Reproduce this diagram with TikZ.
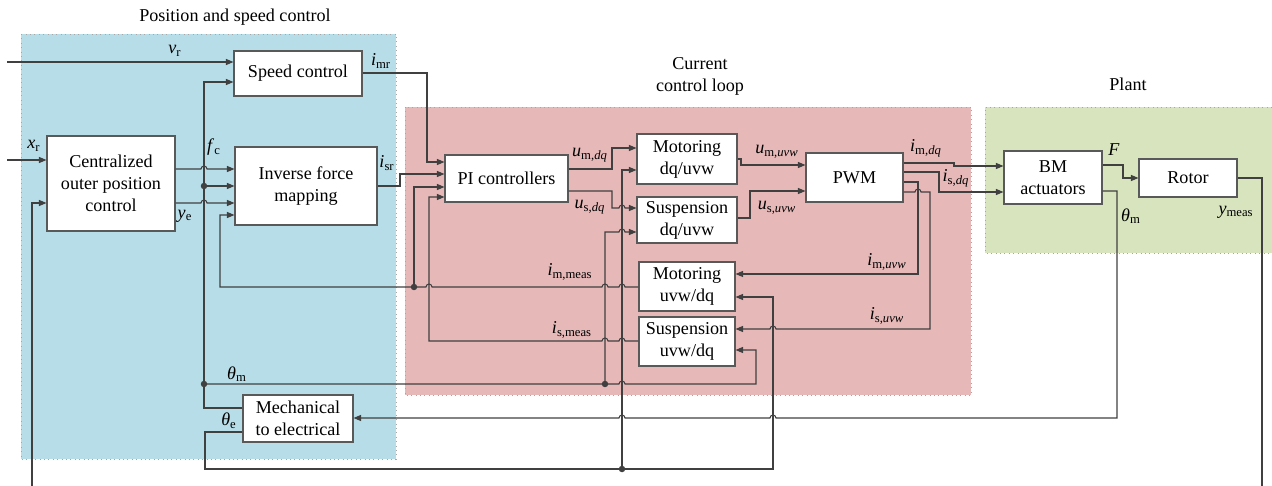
\documentclass[tikz,border=0pt]{standalone}
\usepackage{fontspec}
\setmainfont{Liberation Serif}
\usetikzlibrary{arrows.meta,calc}
\definecolor{bluebg}{HTML}{B7DDE8}
\definecolor{redbg}{HTML}{E6B9B8}
\definecolor{greenbg}{HTML}{D7E4BD}
\definecolor{ln}{HTML}{404040}
\definecolor{bord}{HTML}{A6A6A6}
\newcommand\sym[2]{\textit{#1}\textsubscript{#2}}
% jump on a horizontal line: going right / going left
\newcommand\jr[2]{-- (#1-3,#2) arc[start angle=180,end angle=0,radius=0.06cm]}
\newcommand\jl[2]{-- (#1+3,#2) arc[start angle=0,end angle=180,radius=0.06cm]}
\begin{document}
\begin{tikzpicture}[x=0.02cm,y=-0.02cm,
  font=\fontsize{10.3}{12.5}\selectfont,
  blk/.style args={#1/#2}{draw=black!65, fill=white, line width=0.6pt, align=center,
     inner sep=0pt, minimum width=#1*0.02cm, minimum height=#2*0.02cm},
  wire/.style={draw=ln, line width=0.6pt},
  arr/.style={wire, -{Triangle[length=0.15cm,width=0.12cm]}},
  dotn/.style={fill=ln},
  lab/.style={inner sep=0pt},
  region/.style={draw=bord, dotted, line width=0.5pt}]
\useasboundingbox (0,0) rectangle (1272,486);

% regions
\fill[bluebg] (21,34) rectangle (396,459);
\draw[region] (21,34) rectangle (396,459);
\fill[redbg] (405,107) rectangle (971,395);
\draw[region] (405,107) rectangle (971,395);
\fill[greenbg] (985,107) rectangle (1272,253);
\draw[region] (1272,107) -- (985,107) -- (985,253) -- (1272,253);

\node[lab] (t1) at (235,17) {Position and speed control};
\node[lab,align=center] (t2) at (700,76) {Current\\control loop};
\node[lab] (t3) at (1128,84) {Plant};

% blocks
\node[blk=128/45] (speed) at (298,73.5) {Speed control};
\node[blk=128/95] (cop) at (111,183.5) {Centralized\\outer position\\control};
\node[blk=142/78] (ifm) at (306,186) {Inverse force\\mapping};
\node[blk=123/47] (pi) at (506.5,178.5) {PI controllers};
\node[blk=100/50] (mdq) at (687,159) {Motoring\\dq/uvw};
\node[blk=100/46] (sdq) at (687,220) {Suspension\\dq/uvw};
\node[blk=97/49] (pwm) at (854.5,177.5) {PWM};
\node[blk=98/53] (bm) at (1053,177.5) {BM\\actuators};
\node[blk=98/38] (rotor) at (1188,178) {Rotor};
\node[blk=96/49] (muvw) at (687,286.5) {Motoring\\uvw/dq};
\node[blk=96/49] (suvw) at (687,341.5) {Suspension\\uvw/dq};
\node[blk=110/47] (mech) at (298,418.5) {Mechanical\\to electrical};

% junction coordinates
\coordinate (vrin) at (7,62);
\coordinate (xrin) at (7,160);
\coordinate (jf) at (204,186);
\coordinate (jtm) at (204,384);
\coordinate (jtm2) at (605,384);
\coordinate (jte) at (622,469);
\coordinate (jim) at (414,287);
\coordinate (ymA) at (1262,486);
\coordinate (ymB) at (32,486);

% inputs
\draw[arr] (vrin) -- (speed.west |- vrin);
\draw[arr] (xrin) -- (cop.west |- xrin);
\draw[arr] (ymB) -- (32,203) -- (cop.west |- 0,203);
\draw[wire] (rotor.east |- 0,178) -- (1262,178) -- (ymA);

% centralized -> inverse force
\draw[arr] (cop.east |- 0,169) \jr{204}{169} -- (ifm.west |- 0,169);
\draw[arr] (cop.east |- 0,203) \jr{204}{203} -- (ifm.west |- 0,203);

% theta_e / mechanical feedback vertical
\draw[arr] (mech.west |- 0,408) -- (204,408) -- (204,82) -- (speed.west |- 0,82);
\draw[arr] (jf) -- (ifm.west |- jf);
\draw[arr] (jtm) -- (jtm2) \jr{622}{384} -- (756,384) -- (756,350) -- (suvw.east |- 0,350);
\draw[arr] (jtm2) -- (605,232) \jr{622}{232} -- (sdq.west |- 0,232);

\draw[arr] (mech.west |- 0,432) -- (205,432) -- (205,469) -- (jte) -- (773,469) -- (773,297) -- (muvw.east |- 0,297);
\draw[arr] (jte) -- (622,170) -- (mdq.west |- 0,170);

\draw[arr] (bm.east |- 0,191) -- (1117,191) -- (1117,418) \jl{773}{418} \jl{622}{418} -- (mech.east |- 0,418);

% to PI
\draw[arr] (speed.east |- 0,73) -- (427,73) -- (427,162) -- (pi.west |- 0,162);
\draw[arr] (ifm.east |- 0,186) -- (400,186) -- (400,174) -- (pi.west |- 0,174);
\draw[arr] (muvw.west |- 0,287) \jl{622}{287} \jl{605}{287} \jl{429}{287} -- (jim) -- (220,287) -- (220,215) -- (ifm.west |- 0,215);
\draw[arr] (jim) -- (414,187) -- (pi.west |- 0,187);
\draw[arr] (suvw.west |- 0,341) \jl{622}{341} \jl{605}{341} -- (429,341) -- (429,197) -- (pi.west |- 0,197);

% PI outputs
\draw[arr] (pi.east |- 0,169) -- (612,169) -- (612,148) -- (mdq.west |- 0,148);
\draw[arr] (pi.east |- 0,191) -- (612,191) -- (612,208) \jr{622}{208} -- (sdq.west |- 0,208);

% to PWM
\draw[arr] (mdq.east |- 0,159) -- (741,159) -- (741,165) -- (pwm.west |- 0,165);
\draw[arr] (sdq.east |- 0,218) -- (750,218) -- (750,191) -- (pwm.west |- 0,191);

% PWM outputs
\draw[arr] (pwm.east |- 0,163) -- (954,163) -- (954,166) -- (bm.west |- 0,166);
\draw[arr] (pwm.east |- 0,172) -- (939,172) -- (939,192) -- (bm.west |- 0,192);
\draw[arr] (pwm.east |- 0,182) -- (918,182) -- (918,274) -- (muvw.east |- 0,274);
\draw[arr] (pwm.east |- 0,192) \jr{918}{192} -- (930,192) -- (930,329) \jl{773}{329} -- (suvw.east |- 0,329);

% plant
\draw[arr] (bm.east |- 0,165) -- (1123,165) -- (1123,178) -- (rotor.west |- 0,178);

% dots
\foreach \p in {jf,jtm,jtm2,jte,jim} \fill[dotn] (\p) circle[radius=0.065cm];

% labels
\node[lab] (lvr) at (175,51) {\sym{v}{r}};
\node[lab] (lxr) at (34,146) {\sym{x}{r}};
\node[lab] (lfc) at (214,147) {\sym{f}{c}};
\node[lab] (lye) at (185,216) {\sym{y}{e}};
\node[lab] (limr) at (381,61) {\sym{i}{mr}};
\node[lab] (lisr) at (387,163) {\sym{i}{sr}};
\node[lab] (lumdq) at (590,155) {\sym{u}{m,\textit{dq}}};
\node[lab] (lusdq) at (590,207) {\sym{u}{s,\textit{dq}}};
\node[lab] (lumuvw) at (777,152) {\sym{u}{m,\textit{uvw}}};
\node[lab] (lusuvw) at (777,208) {\sym{u}{s,\textit{uvw}}};
\node[lab] (limdq) at (926,148) {\sym{i}{m,\textit{dq}}};
\node[lab] (lisdq) at (956,178) {\sym{i}{s,\textit{dq}}};
\node[lab] (limuvw) at (887,262) {\sym{i}{m,\textit{uvw}}};
\node[lab] (lisuvw) at (887,316) {\sym{i}{s,\textit{uvw}}};
\node[lab] (limm) at (570,272) {\sym{i}{m,meas}};
\node[lab] (lism) at (572,330) {\sym{i}{s,meas}};
\node[lab] (lthm) at (237,374) {\sym{θ}{m}};
\node[lab] (lthe) at (229,421) {\sym{θ}{e}};
\node[lab] (lF) at (1114,150) {\textit{F}};
\node[lab] (lthm2) at (1131,216) {\sym{θ}{m}};
\node[lab] (lym) at (1236,212) {\sym{y}{meas}};
\end{tikzpicture}
\end{document}
